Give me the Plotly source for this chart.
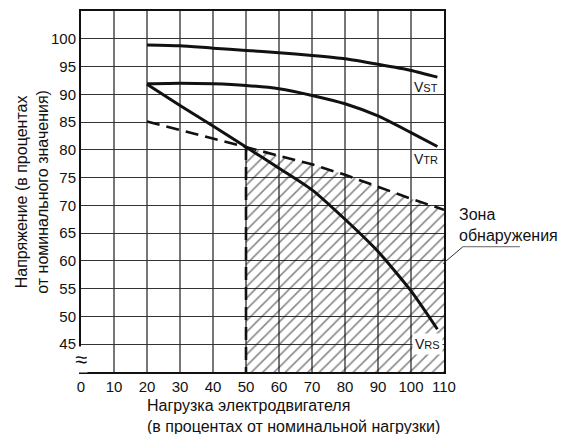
import plotly.graph_objects as go

# load, % of nominal
load_pct = [20, 30, 40, 50, 60, 70, 80, 90, 100, 108]
v_st = [98.9, 98.75, 98.3, 97.9, 97.5, 97.0, 96.4, 95.4, 94.3, 93.1]
v_tr = [91.9, 92.0, 91.9, 91.6, 91.0, 89.8, 88.3, 86.1, 83.1, 80.6]
v_rs = [91.8, 88.0, 84.3, 80.5, 76.7, 72.8, 67.5, 61.7, 54.6, 47.7]

# detection boundary (dashed)
bound_x = [20, 50, 60, 70, 80, 90, 100, 110]
bound_y = [85.1, 80.5, 78.9, 77.4, 75.5, 73.3, 71.2, 69.2]
zone_start = 50
y_floor = 40

x_ticks = list(range(0, 111, 10))
y_ticks = list(range(45, 101, 5))

FONT = "Liberation Sans, Arial, sans-serif"

fig = go.Figure()

# hatched detection zone
zone_x = [zone_start] + bound_x[1:] + [bound_x[-1]]
zone_y = [y_floor] + bound_y[1:] + [y_floor]
fig.add_trace(
    go.Scatter(
        x=zone_x,
        y=zone_y,
        mode="lines",
        line=dict(width=0),
        fill="toself",
        fillcolor="rgba(0,0,0,0)",
        fillpattern=dict(shape="/", fgcolor="#111", bgcolor="rgba(0,0,0,0)", size=8, solidity=0.2),
        hoverinfo="skip",
        showlegend=False,
    )
)

dash_style = dict(color="#111", width=2.6, dash="13px,7px")
fig.add_trace(
    go.Scatter(x=bound_x, y=bound_y, mode="lines", line=dash_style, showlegend=False)
)
fig.add_trace(
    go.Scatter(
        x=[zone_start, zone_start],
        y=[bound_y[1], y_floor],
        mode="lines",
        line=dash_style,
        showlegend=False,
    )
)

for series in (v_st, v_tr, v_rs):
    fig.add_trace(
        go.Scatter(
            x=load_pct,
            y=series,
            mode="lines",
            line=dict(color="#111", width=3, shape="spline", smoothing=0.6),
            showlegend=False,
        )
    )

label_font = dict(family=FONT, size=16, color="#111")
v_font = dict(family=FONT, size=14, color="#111")
annotations = [
    dict(x=104.5, y=91.3, text="V<span style='font-size:11px'>ST</span>", showarrow=False, font=v_font),
    dict(x=104.5, y=78.3, text="V<span style='font-size:11px'>TR</span>", showarrow=False, font=v_font),
    dict(
        x=105.1,
        y=45.0,
        text="V<span style='font-size:11px'>RS</span>",
        showarrow=False,
        bgcolor="white",
        borderpad=2,
        font=v_font,
    ),
    dict(
        x=1.036,
        y=0.406,
        xref="paper",
        yref="paper",
        xanchor="left",
        align="left",
        text="Зона<br>обнаружения",
        showarrow=False,
    ),
    dict(
        x=-0.137,
        y=0.5,
        xref="paper",
        yref="paper",
        xanchor="center",
        yanchor="middle",
        textangle=-90,
        text="Напряжение (в процентах<br>от номинального значения)",
        showarrow=False,
    ),
    dict(
        x=0.177,
        y=-0.123,
        xref="paper",
        yref="paper",
        xanchor="left",
        yanchor="middle",
        align="left",
        text="Нагрузка электродвигателя<br>(в процентах от номинальной нагрузки)",
        showarrow=False,
    ),
    dict(
        x=0.0,
        y=0.036,
        xref="paper",
        yref="paper",
        xanchor="center",
        yanchor="middle",
        text="≈",
        showarrow=False,
        bgcolor="white",
        borderpad=0,
        font=dict(family=FONT, size=22, color="#111"),
    ),
]
for a in annotations:
    a.setdefault("font", label_font)

# page body has an 8px margin, so the figure is sized to fit the window
fig.update_layout(
    width=561,
    height=426,
    margin=dict(l=73, r=125, t=1, b=62),
    paper_bgcolor="white",
    plot_bgcolor="white",
    font=dict(family=FONT, size=15, color="#111"),
    annotations=annotations,
    shapes=[
        dict(
            type="line", xref="paper", yref="paper",
            x0=0.997, y0=0.300, x1=1.052, y1=0.347,
            line=dict(color="#333", width=1),
        ),
        dict(
            type="line", xref="paper", yref="paper",
            x0=1.052, y0=0.347, x1=1.209, y1=0.347,
            line=dict(color="#666", width=1),
        ),
    ],
)
fig.update_xaxes(
    range=[0, 110],
    tickvals=x_ticks,
    showgrid=True,
    gridcolor="#777",
    gridwidth=1.5,
    showline=True,
    linecolor="#111",
    linewidth=2,
    mirror=True,
    zeroline=False,
    ticks="",
)
fig.update_yaxes(
    range=[40, 105],
    tickvals=y_ticks,
    showgrid=True,
    gridcolor="#333",
    gridwidth=1.3,
    showline=True,
    linecolor="#111",
    linewidth=2,
    mirror=True,
    zeroline=False,
    ticks="",
)

fig.write_html("out.html")
